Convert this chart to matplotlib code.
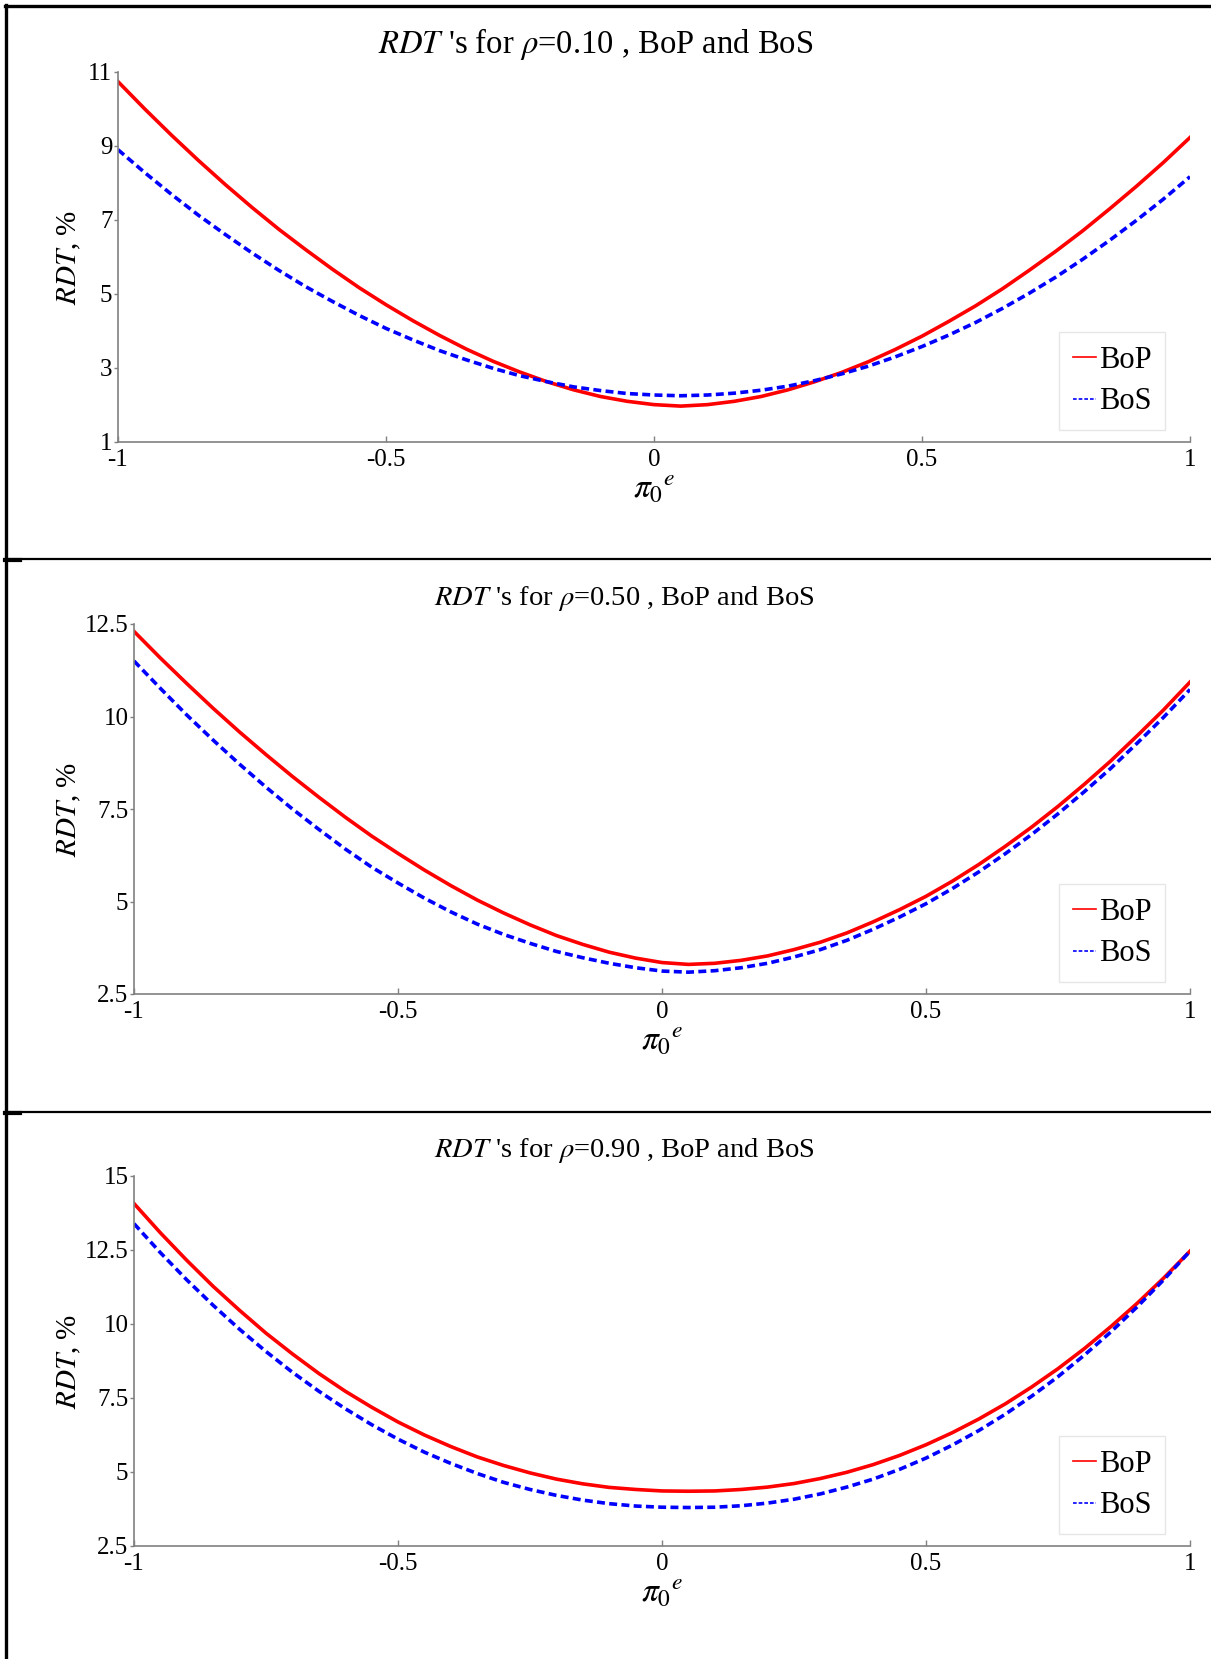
import matplotlib
matplotlib.use("Agg")
import matplotlib.pyplot as plt
from matplotlib.lines import Line2D

plt.rcParams['font.family'] = ['Liberation Serif', 'DejaVu Serif']
plt.rcParams['mathtext.fontset'] = 'stix'
plt.rcParams['axes.unicode_minus'] = False

# pi_0^e grid
pi0e = [-1.00, -0.95, -0.90, -0.85, -0.80, -0.75, -0.70, -0.65, -0.60, -0.55,
        -0.50, -0.45, -0.40, -0.35, -0.30, -0.25, -0.20, -0.15, -0.10, -0.05,
        0.00, 0.05, 0.10, 0.15, 0.20, 0.25, 0.30, 0.35, 0.40, 0.45,
        0.50, 0.55, 0.60, 0.65, 0.70, 0.75, 0.80, 0.85, 0.90, 0.95, 1.00]

# rho = 0.10
bop_010 = [10.74, 10.00, 9.29, 8.61, 7.96, 7.34, 6.75, 6.20, 5.67, 5.17,
           4.71, 4.28, 3.88, 3.51, 3.18, 2.89, 2.63, 2.41, 2.23, 2.10,
           2.01, 1.97, 2.01, 2.10, 2.23, 2.41, 2.63, 2.88, 3.17, 3.50,
           3.86, 4.26, 4.68, 5.14, 5.64, 6.16, 6.71, 7.30, 7.91, 8.55, 9.23]
bos_010 = [8.90, 8.28, 7.69, 7.13, 6.61, 6.11, 5.64, 5.20, 4.80, 4.42,
           4.07, 3.76, 3.47, 3.22, 2.99, 2.79, 2.63, 2.49, 2.39, 2.31,
           2.27, 2.25, 2.27, 2.32, 2.40, 2.51, 2.66, 2.84, 3.05, 3.30,
           3.58, 3.89, 4.23, 4.61, 5.02, 5.46, 5.94, 6.45, 6.99, 7.56, 8.17]

# rho = 0.50
bop_050 = [12.30, 11.58, 10.89, 10.22, 9.58, 8.97, 8.38, 7.82, 7.28, 6.77,
           6.30, 5.85, 5.43, 5.04, 4.69, 4.37, 4.08, 3.84, 3.63, 3.47,
           3.35, 3.30, 3.33, 3.41, 3.53, 3.70, 3.90, 4.15, 4.45, 4.78,
           5.14, 5.55, 6.00, 6.49, 7.01, 7.57, 8.17, 8.80, 9.48, 10.18, 10.93]
bos_050 = [11.50, 10.76, 10.04, 9.36, 8.71, 8.09, 7.50, 6.95, 6.42, 5.93,
           5.50, 5.09, 4.72, 4.39, 4.11, 3.87, 3.65, 3.48, 3.33, 3.21,
           3.12, 3.09, 3.13, 3.21, 3.33, 3.50, 3.70, 3.95, 4.25, 4.58,
           4.94, 5.35, 5.80, 6.29, 6.81, 7.37, 7.97, 8.60, 9.28, 9.98, 10.73]

# rho = 0.90
bop_090 = [14.07, 13.08, 12.15, 11.27, 10.46, 9.69, 8.99, 8.33, 7.73, 7.19,
           6.69, 6.25, 5.86, 5.51, 5.22, 4.97, 4.76, 4.60, 4.48, 4.41,
           4.36, 4.35, 4.36, 4.41, 4.49, 4.61, 4.78, 4.99, 5.25, 5.56,
           5.92, 6.33, 6.79, 7.30, 7.87, 8.49, 9.17, 9.91, 10.70, 11.55, 12.46]
bos_090 = [13.39, 12.41, 11.49, 10.63, 9.82, 9.07, 8.37, 7.73, 7.14, 6.60,
           6.11, 5.67, 5.29, 4.95, 4.65, 4.41, 4.21, 4.05, 3.93, 3.85,
           3.81, 3.80, 3.81, 3.86, 3.95, 4.08, 4.26, 4.49, 4.76, 5.09,
           5.47, 5.91, 6.40, 6.95, 7.56, 8.22, 8.95, 9.73, 10.58, 11.49, 12.46]

rhos = ['0.10', '0.50', '0.90']
bop = [bop_010, bop_050, bop_090]
bos = [bos_010, bos_050, bos_090]
yticks = [[1, 3, 5, 7, 9, 11],
          [2.5, 5, 7.5, 10, 12.5],
          [2.5, 5, 7.5, 10, 12.5, 15]]
yticklabels = [['1', '3', '5', '7', '9', '11'],
               ['2.5', '5', '7.5', '10', '12.5'],
               ['2.5', '5', '7.5', '10', '12.5', '15']]
xticks = [-1, -0.5, 0, 0.5, 1]
xticklabels = ['-1', '-0.5', '0', '0.5', '1']

W, H = 1211, 1659
fig = plt.figure(figsize=(W / 100, H / 100), dpi=100)

# axes boxes in pixels: left, right, top, bottom
boxes = [(118, 1190, 72, 442), (134, 1190, 624, 994), (134, 1190, 1176, 1546)]
title_x = [596, 624, 624]
title_fs = [23.5, 20.5, 20.5]
ylab_x = 83

for i in range(3):
    l, r, t, b = boxes[i]
    ax = fig.add_axes([l / W, 1 - b / H, (r - l) / W, (b - t) / H])
    ax.plot(pi0e, bop[i], color='#ff0000', lw=2.6, label='BoP')
    ax.plot(pi0e, bos[i], color='#0000ff', lw=2.6, ls=(0, (2.2, 1.2)), label='BoS')
    ax.set_xlim(-1, 1)
    ax.set_ylim(yticks[i][0], yticks[i][-1])
    ax.set_xticks(xticks)
    ax.set_xticklabels(xticklabels)
    ax.set_yticks(yticks[i])
    ax.set_yticklabels(yticklabels[i])
    for s in ['top', 'right']:
        ax.spines[s].set_visible(False)
    for s in ['left', 'bottom']:
        ax.spines[s].set_color('#808080')
        ax.spines[s].set_linewidth(1.2)
    ax.tick_params(axis='x', direction='in', length=4, width=1, color='#808080',
                   labelsize=18, pad=5)
    ax.tick_params(axis='y', direction='out', length=3, width=1, color='#808080',
                   labelsize=18, pad=1)
    ax.set_title("$RDT$ 's for $\\rho$=" + rhos[i] + " , BoP and BoS",
                 fontsize=title_fs[i], pad=14,
                 x=(title_x[i] - l) / (r - l))
    ax.set_xlabel('${\\pi_{\\mathit{0}}}^{e}$', fontsize=24, labelpad=2)
    ax.set_ylabel('$RDT$, %', fontsize=21)
    ax.yaxis.set_label_coords((ylab_x - l) / (r - l), 0.5)
    # legend in the lower right corner, thin handles
    leg = ax.legend(loc='lower right', bbox_to_anchor=(1 - 25 / (r - l), 12 / (b - t)),
                    fontsize=22, handlelength=0.75, handletextpad=0.1,
                    borderpad=0.45, labelspacing=0.4, fancybox=False,
                    borderaxespad=0)
    leg.get_frame().set_edgecolor('#e0e0e0')
    leg.get_frame().set_linewidth(1)
    for h in leg.get_lines():
        h.set_linewidth(1.2)

# table borders
def fline(x0, x1, y0, y1, lw):
    fig.add_artist(Line2D([x0 / W, x1 / W], [1 - y0 / H, 1 - y1 / H],
                          color='black', lw=lw, transform=fig.transFigure))

fline(5, W, 6, 6, 2.4)
fline(5.5, 5.5, 5, H, 2.4)
fline(5, W, 559, 559, 1.6)
fline(5, W, 1112, 1112, 1.6)
fline(5, 20, 560, 560, 3)
fline(5, 20, 1113, 1113, 3)

fig.savefig('out.png', dpi=100)
